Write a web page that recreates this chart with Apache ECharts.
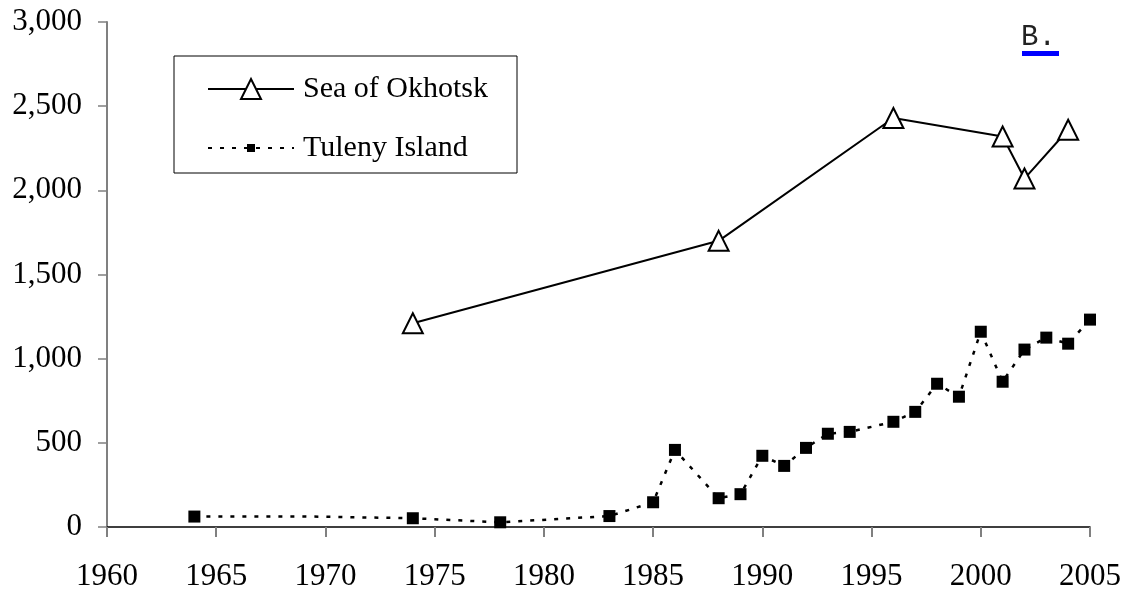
<!DOCTYPE html>
<html>
<head>
<meta charset="UTF-8">
<title>Sea of Okhotsk / Tuleny Island</title>
<script type="text/javascript" src="https://cdn.jsdelivr.net/npm/echarts@6/dist/echarts.min.js"></script>
<style>
  html, body { margin: 0; padding: 0; background: #fff; }
  #main { width: 1131px; height: 592px; }
</style>
</head>
<body>
<div id="main"></div>
<script type="text/javascript">
  // data
  var okhotskYears = [1974, 1988, 1996, 2001, 2002, 2004];
  var okhotskCounts = [1210, 1700, 2430, 2320, 2070, 2360];

  var tulenyYears = [1964, 1969, 1974, 1978, 1983, 1985, 1986, 1988, 1989, 1990, 1991, 1992, 1993, 1994,
                     1996, 1997, 1998, 1999, 2000, 2001, 2002, 2003, 2004, 2005];
  var tulenyCounts = [62, 63, 52, 28, 65, 147, 458, 171, 195, 423, 363, 470, 554, 565,
                      625, 684, 851, 774, 1160, 863, 1054, 1125, 1089, 1232];
  // 1969 shows as a kink in the line but has no marker
  var tulenyNoMarker = [1969];

  var xTicks = { min: 1960, max: 2005, step: 5 };
  var yTicks = { min: 0, max: 3000, step: 500 };

  var serif = '"Liberation Serif", "Times New Roman", serif';

  function pairs(xs, ys, hidden) {
    var out = [];
    for (var i = 0; i < xs.length; i++) {
      var item = { value: [xs[i], ys[i]] };
      if (hidden && hidden.indexOf(xs[i]) >= 0) item.symbol = 'none';
      out.push(item);
    }
    return out;
  }

  function commas(v) {
    return String(v).replace(/\B(?=(\d{3})+(?!\d))/g, ',');
  }

  var chart = echarts.init(document.getElementById('main'));

  // two legends so each sample marker can keep its own size; the frame is drawn separately
  var legendBase = {
    orient: 'vertical',
    left: 207,
    padding: 0,
    itemWidth: 86,
    textStyle: { fontFamily: serif, fontSize: 30, color: '#000', padding: [0, 0, 0, 4] }
  };

  chart.setOption({
    animation: false,
    backgroundColor: '#fff',
    grid: { left: 107, right: 41, top: 22, bottom: 65, outerBoundsMode: 'none' },
    legend: [
      Object.assign({}, legendBase, { top: 74, itemHeight: 25, data: ['Sea of Okhotsk'] }),
      Object.assign({}, legendBase, { top: 133, itemHeight: 10, data: ['Tuleny Island'] })
    ],
    xAxis: {
      type: 'value',
      min: xTicks.min,
      max: xTicks.max,
      interval: xTicks.step,
      splitLine: { show: false },
      axisLine: { lineStyle: { color: '#000', width: 1.5 } },
      axisTick: { show: true, length: 10, lineStyle: { color: '#808080', width: 2 } },
      axisLabel: {
        margin: 34,
        fontFamily: serif,
        fontSize: 31,
        color: '#000',
        formatter: function (v) { return String(v); }
      }
    },
    yAxis: {
      type: 'value',
      min: yTicks.min,
      max: yTicks.max,
      interval: yTicks.step,
      splitLine: { show: false },
      axisLine: { show: true, lineStyle: { color: '#808080', width: 2 } },
      axisTick: { show: true, length: 9, lineStyle: { color: '#808080', width: 1.5 } },
      axisLabel: {
        margin: 25,
        fontFamily: serif,
        fontSize: 31,
        color: '#000',
        formatter: function (v) { return commas(v); }
      }
    },
    graphic: [
      {
        type: 'rect',
        shape: { x: 174, y: 56, width: 343, height: 117 },
        style: { fill: 'none', stroke: '#000', lineWidth: 1 }
      },
      {
        type: 'text',
        x: 1021,
        y: 23,
        style: {
          text: 'B.',
          font: '29px "Liberation Mono", "Courier New", monospace',
          fill: '#222'
        }
      },
      {
        type: 'rect',
        shape: { x: 1022, y: 51, width: 37, height: 5 },
        style: { fill: '#0000ff' }
      }
    ],
    series: [
      {
        name: 'Sea of Okhotsk',
        type: 'line',
        data: pairs(okhotskYears, okhotskCounts),
        symbol: 'triangle',
        symbolSize: 20,
        showAllSymbol: true,
        z: 3,
        lineStyle: { color: '#000', width: 2 },
        itemStyle: { color: '#fff', borderColor: '#000', borderWidth: 2 }
      },
      {
        name: 'Tuleny Island',
        type: 'line',
        data: pairs(tulenyYears, tulenyCounts, tulenyNoMarker),
        symbol: 'rect',
        symbolSize: 12,
        showAllSymbol: true,
        lineStyle: { color: '#000', width: 2.5, type: [4, 8] },
        itemStyle: { color: '#000', borderColor: '#000', borderWidth: 0 }
      }
    ]
  });
</script>
</body>
</html>
